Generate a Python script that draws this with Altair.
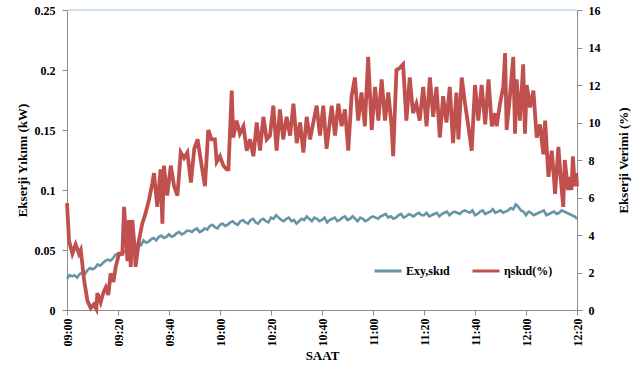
import altair as alt
import pandas as pd

# ---------------- data ----------------
x_tick_minutes = [0, 20, 40, 60, 80, 100, 120, 140, 160, 180, 200]
x_tick_labels = ["09:00", "09:20", "09:40", "10:00", "10:20", "10:40",
                 "11:00", "11:20", "11:40", "12:00", "12:20"]

left_ticks = [0, 0.025, 0.05, 0.075, 0.1, 0.125, 0.15, 0.175, 0.2, 0.225, 0.25]
right_ticks = [0, 2, 4, 6, 8, 10, 12, 14, 16]

series_names = ["Exy,skıd", "ηskıd(%)"]

blue_even_minutes = list(range(0, 201, 2))
blue_even_values = [
    0.026, 0.028, 0.027, 0.031, 0.033, 0.034, 0.038, 0.039, 0.042, 0.043,
    0.047, 0.048, 0.052, 0.053, 0.055, 0.058, 0.057, 0.060, 0.061, 0.060,
    0.063, 0.062, 0.065, 0.064, 0.066, 0.067, 0.065, 0.068, 0.070, 0.069,
    0.071, 0.070, 0.073, 0.072, 0.074, 0.073, 0.075, 0.073, 0.075, 0.074,
    0.077, 0.079, 0.075, 0.076, 0.074, 0.072, 0.076, 0.078, 0.074, 0.076,
    0.075, 0.073, 0.076, 0.074, 0.077, 0.075, 0.078, 0.074, 0.076, 0.075,
    0.078, 0.076, 0.079, 0.077, 0.076, 0.079, 0.077, 0.080, 0.078, 0.081,
    0.079, 0.078, 0.080, 0.078, 0.081, 0.079, 0.082, 0.080, 0.083, 0.081,
    0.079, 0.082, 0.080, 0.082, 0.081, 0.083, 0.082, 0.085, 0.088, 0.083,
    0.079, 0.081, 0.080, 0.082, 0.079, 0.081, 0.080, 0.083, 0.081, 0.079,
    0.076,
]
blue_odd_minutes = list(range(1, 200, 2))
blue_odd_values = [
    0.029, 0.029, 0.030, 0.030, 0.035, 0.035, 0.037, 0.041, 0.041, 0.046,
    0.046, 0.049, 0.051, 0.055, 0.054, 0.056, 0.059, 0.058, 0.062, 0.061,
    0.061, 0.064, 0.063, 0.066, 0.065, 0.068, 0.066, 0.067, 0.071, 0.068,
    0.072, 0.071, 0.074, 0.071, 0.075, 0.072, 0.076, 0.072, 0.076, 0.073,
    0.076, 0.077, 0.074, 0.077, 0.075, 0.074, 0.075, 0.076, 0.077, 0.074,
    0.077, 0.075, 0.077, 0.075, 0.078, 0.076, 0.076, 0.077, 0.074, 0.077,
    0.077, 0.078, 0.080, 0.078, 0.077, 0.080, 0.078, 0.079, 0.080, 0.079,
    0.081, 0.079, 0.081, 0.080, 0.082, 0.081, 0.081, 0.082, 0.082, 0.083,
    0.080, 0.083, 0.081, 0.084, 0.082, 0.081, 0.083, 0.084, 0.086, 0.082,
    0.082, 0.079, 0.081, 0.083, 0.080, 0.082, 0.081, 0.082, 0.080, 0.078,
]

red_minutes = [
    0, 0.8, 2.1, 3.4, 4.7, 5.4, 6.7, 8.0, 9.3, 10.5, 11.5, 11.9, 13.2, 14.2,
    15.2, 16.2, 17.1, 18.2, 19.1, 20.4, 21.7, 22.4, 23.7, 24.3, 25.0, 25.6,
    26.3, 26.9, 28.2, 29.5, 30.8, 32.2, 33.5, 34.1, 35.4, 36.7, 37.4, 38.0,
    39.3, 40.7, 42.0, 43.3, 44.6, 45.9, 47.2, 48.6, 49.9, 51.2, 52.8, 54.1,
    55.4, 56.7, 58.0, 58.7, 60.0, 61.3, 62.6, 63.3, 64.6, 65.2, 66.5, 67.8,
    69.2, 70.5, 71.8, 73.1, 74.4, 75.7, 77.0, 78.3, 79.6, 80.9, 82.2, 83.5,
    84.8, 86.1, 87.5, 88.8, 90.1, 91.4, 92.7, 94.0, 95.3, 96.6, 97.9, 99.2,
    100.5, 101.8, 103.8, 105.1, 106.4, 107.7, 109.0, 110.3, 111.6, 112.9,
    114.2, 115.5, 116.8, 118.1, 119.5, 120.8, 122.1, 123.4, 124.7, 126.0,
    127.3, 127.9, 129.2, 130.5, 131.8, 133.1, 134.4, 135.7, 137.0, 138.3,
    139.7, 141.0, 142.3, 143.6, 144.9, 146.2, 147.5, 148.8, 150.1, 151.4,
    152.7, 153.5, 154.8, 156.1, 157.4, 158.7, 160.0, 161.3, 162.6, 164.0,
    165.3, 166.6, 167.9, 168.5, 169.8, 171.1, 171.8, 172.4, 173.7, 175.0,
    175.7, 176.3, 177.6, 178.9, 179.6, 180.3, 181.6, 182.9, 184.2, 185.5,
    186.8, 187.5, 188.8, 190.1, 190.7, 191.4, 192.7, 193.7, 194.6, 195.2,
    196.5, 197.1, 197.8, 198.4, 199.1, 199.7, 200.0,
]
red_values = [
    5.7, 3.7, 3.0, 3.5, 3.0, 3.2, 1.6, 0.5, 0.1, 0.3, 0.05, 0.9, 0.4, 0.9,
    1.2, 0.8, 1.95, 1.5, 2.3, 3.0, 3.0, 5.5, 2.6, 4.8, 2.3, 4.8,
    3.7, 2.3, 3.7, 4.6, 5.15, 5.9, 6.8, 7.3, 5.5, 7.5, 4.6, 7.7,
    6.1, 7.7, 6.6, 6.1, 8.4, 8.1, 8.4, 6.8, 8.6, 9.1, 7.7, 6.6,
    9.6, 9.1, 9.1, 7.9, 8.2, 7.7, 7.5, 7.5, 11.7, 9.2, 10.1, 9.4,
    9.8, 8.5, 9.1, 8.2, 10.0, 8.5, 10.3, 9.1, 9.3, 10.9, 8.5, 10.7,
    9.1, 10.3, 9.3, 11.0, 8.9, 10.0, 8.4, 10.3, 9.1, 10.0, 10.9, 9.3,
    10.9, 8.6, 10.9, 9.3, 11.0, 9.8, 10.7, 8.5, 11.4, 12.4,
    10.1, 11.6, 9.8, 13.5, 9.6, 11.9, 10.1, 12.3, 10.1, 11.6,
    9.8, 8.2, 12.8, 12.9, 13.1, 10.1, 12.4, 10.5, 11.0, 10.1,
    11.9, 9.8, 12.4, 10.3, 11.9, 9.2, 11.4, 10.0, 11.9, 8.9,
    11.6, 9.1, 12.4, 11.0, 9.8, 8.5, 12.0, 10.1, 12.0, 9.9,
    12.3, 9.8, 10.5, 9.8, 11.0, 11.9, 13.7, 9.6, 11.4, 13.5,
    9.4, 12.3, 10.1, 13.1, 9.4, 12.0, 10.8, 11.7, 9.2, 9.9,
    8.3, 10.1, 7.1, 8.5, 7.5, 6.2, 8.7, 6.9, 5.5, 8.0,
    6.4, 7.1, 6.4, 8.2, 6.6, 7.3, 6.6,
]

# ---------------- styles ----------------
BLUE = "#6894a7"
RED = "#c0504d"
FONT = "Liberation Serif"
AXIS_GRAY = "#8c8c8c"

df_blue = pd.DataFrame({
    "minute": blue_even_minutes + blue_odd_minutes,
    "value": blue_even_values + blue_odd_values,
    "series": series_names[0],
}).sort_values("minute")
df_red = pd.DataFrame({"minute": red_minutes, "value": red_values,
                       "series": series_names[1]})

label_array = "[" + ",".join("'" + s + "'" for s in x_tick_labels) + "]"

x_enc = alt.X(
    "minute:Q",
    scale=alt.Scale(domain=[0, 200], nice=False, zero=False),
    axis=alt.Axis(values=x_tick_minutes,
                  labelExpr=label_array + "[round(datum.value/20)]",
                  labelAngle=270, labelPadding=3, title="SAAT",
                  titlePadding=4),
)

color_enc = alt.Color(
    "series:N",
    scale=alt.Scale(domain=series_names, range=[BLUE, RED]),
    legend=alt.Legend(orient="none", legendX=306, legendY=246,
                      direction="horizontal", title=None,
                      symbolType="stroke", symbolSize=729,
                      symbolStrokeWidth=3, labelOffset=3,
                      columnPadding=16, labelFont=FONT,
                      labelFontWeight="bold", labelFontSize=12,
                      labelColor="black"),
)

blue_line = alt.Chart(df_blue).mark_line(strokeWidth=2.6).encode(
    x=x_enc,
    y=alt.Y("value:Q",
            scale=alt.Scale(domain=[0, 0.25], nice=False),
            axis=alt.Axis(orient="left", values=left_ticks,
                          labelExpr="round(datum.value*40) % 2 == 0 ? '' + datum.value : ''",
                          labelPadding=7, title="Ekserji Yıkımı (kW)",
                          titlePadding=5)),
    color=color_enc,
)

top_rule = alt.Chart(df_blue.head(1)).mark_rule(color="#9dc3e6", strokeWidth=1).encode(
    y=alt.datum(0.25)
)

red_line = alt.Chart(df_red).mark_line(strokeWidth=3.8).encode(
    x=x_enc,
    y=alt.Y("value:Q",
            scale=alt.Scale(domain=[0, 16], nice=False),
            axis=alt.Axis(orient="right", values=right_ticks,
                          labelPadding=6, title="Ekserji Verimi (%)",
                          titleAngle=270, titlePadding=30)),
    color=color_enc,
)

left_layer = alt.layer(blue_line, top_rule)

chart = alt.layer(left_layer, red_line).resolve_scale(
    y="independent"
).properties(
    width=510, height=300,
    autosize=alt.AutoSizeParams(type="none"),
    padding={"left": 67, "top": 10, "right": 55, "bottom": 62},
).configure_view(
    stroke=None
).configure_axis(
    grid=False,
    domainColor=AXIS_GRAY, tickColor=AXIS_GRAY, tickSize=5,
    labelFont=FONT, labelFontWeight="bold", labelFontSize=12,
    labelColor="black",
    titleFont=FONT, titleFontWeight="bold", titleFontSize=13,
    titleColor="black",
)

chart.save("out.html", embed_options={"renderer": "svg", "actions": False})
